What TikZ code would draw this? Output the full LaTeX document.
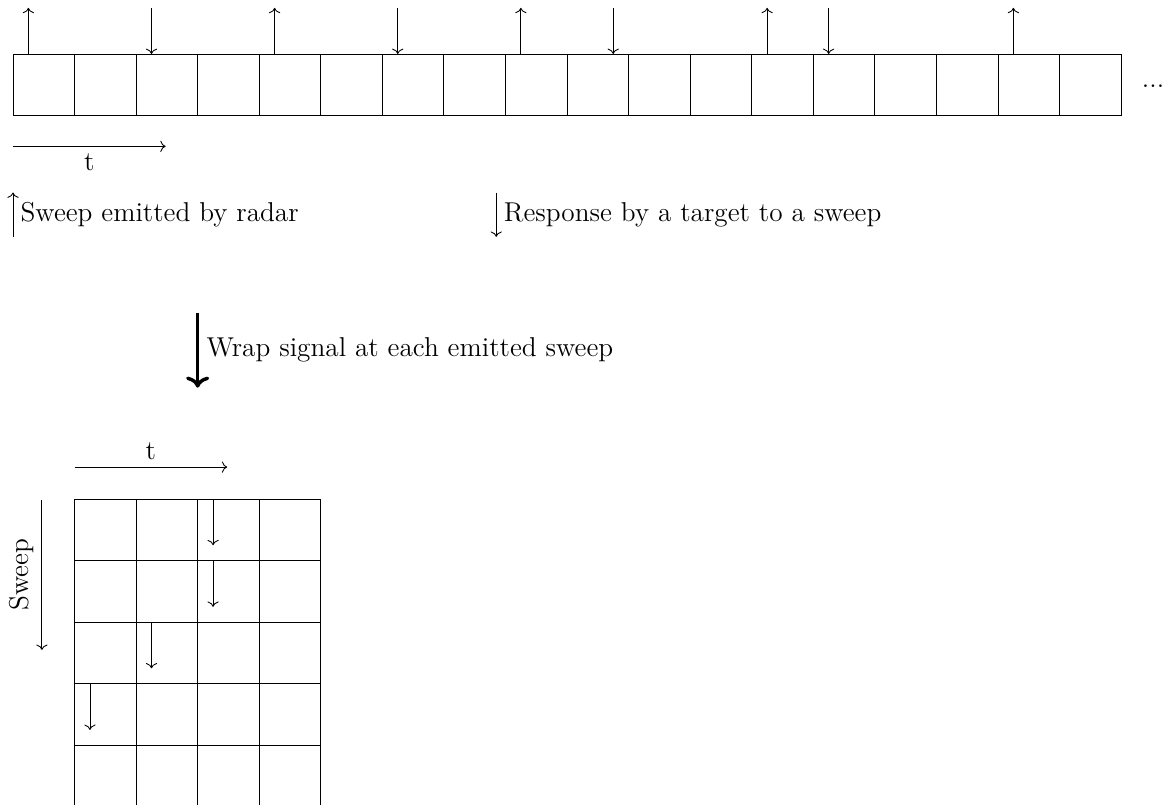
\documentclass[tikz,border=0pt]{standalone}
\usepackage{tikz}
\usetikzlibrary{arrows.meta, positioning, calc}

\tikzset{
  cell/.style={draw, minimum size=1cm, inner sep=0pt, outer sep=0pt},
  lbl/.style={font=\fontsize{12.6}{15}\selectfont}
}

\begin{document}
\begin{tikzpicture}
  \useasboundingbox (-0.211,0.877) rectangle (18.762,-12.199);

  % === SIGNAL ===
  \foreach \i in {0,...,17} {
    \node[cell] (s\i) at (\i+0.5,-0.5) {};
  }
  \node[lbl] (dots) at (18.52,-0.53) {...};

  % Sweeps emitted
  \foreach \i in {0,4,8,12,16} {
    \draw[->] ($(s\i.north west)+(0.25,0)$) -- ++(0,0.75);
  }
  % Responses
  \foreach \i/\dx in {2/0.25,6/0.25,9/0.75,13/0.25} {
    \draw[->] ($(s\i.north west)+(\dx,0.75)$) -- ++(0,-0.75);
  }

  % Time
  \coordinate (t0) at (0,-1.5);
  \coordinate (t1) at (2.48,-1.5);
  \draw[->] (t0) -- (t1) node[lbl, midway, below]{t};

  % Legend
  \coordinate (up0) at (0,-2.97);
  \coordinate (up1) at (0,-2.25);
  \draw[->] (up0) -- (up1) node[lbl, midway, right]{Sweep emitted by radar};
  \coordinate (dn0) at (7.85,-2.25);
  \coordinate (dn1) at (7.85,-2.97);
  \draw[->] (dn0) -- (dn1) node[lbl, midway, right]{Response by a target to a sweep};

  % === WRAP ===
  \coordinate (w0) at (3,-4.2);
  \coordinate (w1) at (3,-5.42);
  \draw[->, ultra thick] (w0) -- (w1) node[lbl, midway, right]{Wrap signal at each emitted sweep};

  % === MATRIX ===
  \foreach \r in {0,...,4} {
    \foreach \c in {0,...,3} {
      \node[cell] (g\r\c) at (\c+1.5,-7.73-\r) {};
    }
  }
  \foreach \r/\c in {0/2,1/2,2/1,3/0} {
    \draw[->] ($(g\r\c.north west)+(0.25,0)$) -- ++(0,-0.75);
  }

  % Axes
  \coordinate (gt0) at (1,-6.71);
  \coordinate (gt1) at (3.48,-6.71);
  \draw[->] (gt0) -- (gt1) node[lbl, midway, above]{t};
  \coordinate (sw0) at (0.47,-7.24);
  \coordinate (sw1) at (0.47,-9.68);
  \draw[->] (sw0) -- (sw1);
  \node[lbl, rotate=90, anchor=south] (sweep) at ($(sw0)!0.5!(sw1)$) {Sweep};
\end{tikzpicture}
\end{document}
